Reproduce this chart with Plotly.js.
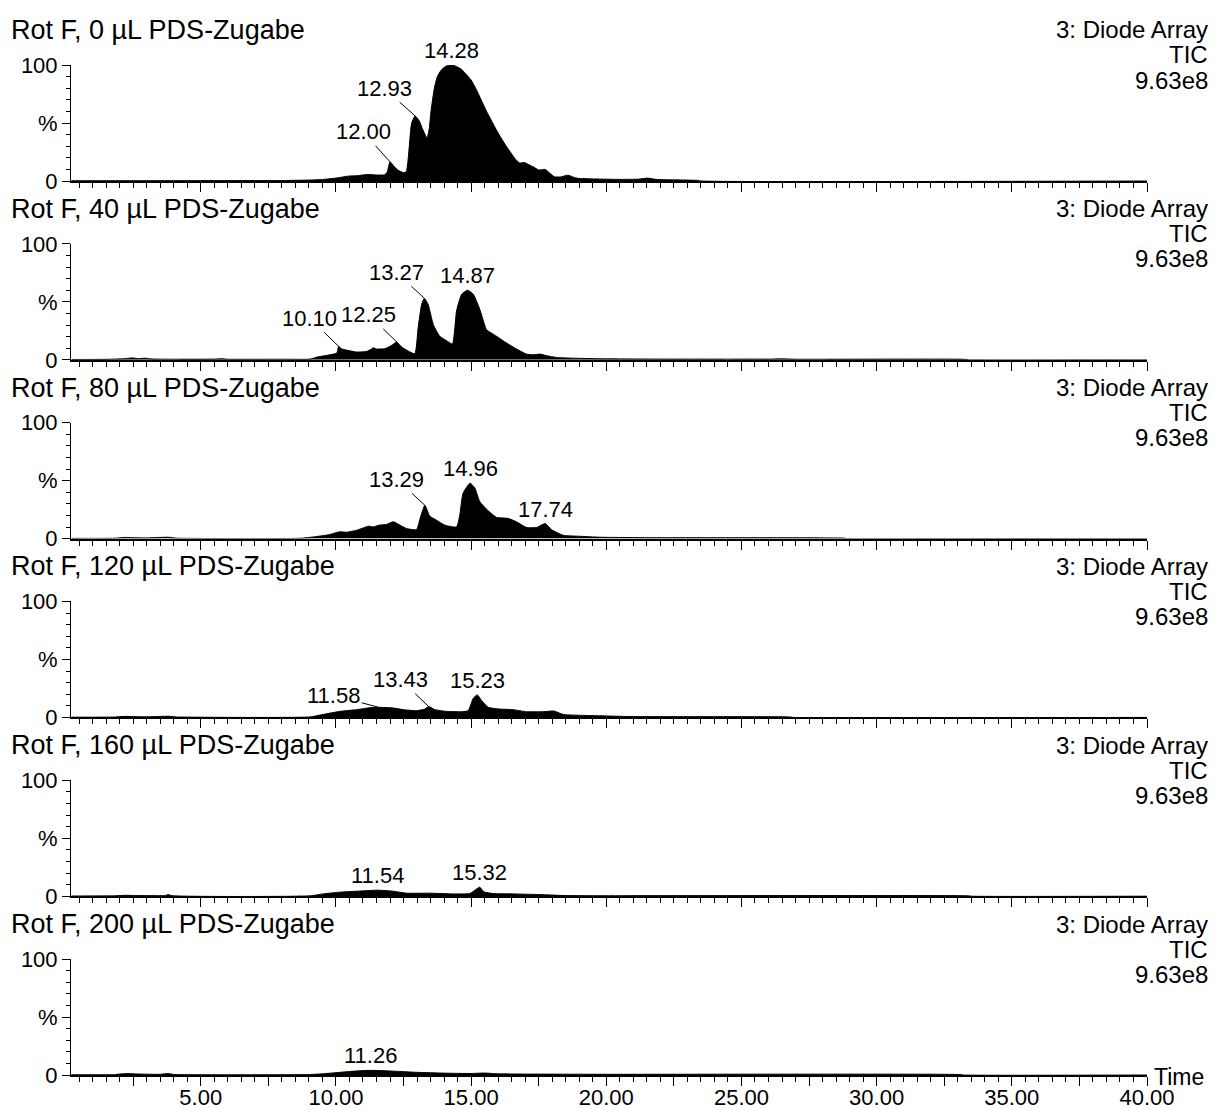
<!DOCTYPE html>
<html>
<head>
<meta charset="utf-8">
<script src="https://cdn.plot.ly/plotly-3.0.1.min.js"></script>
<style>
  html, body { margin: 0; padding: 0; background: #fff; }
  #chart { width: 1218px; height: 1110px; }
</style>
</head>
<body>
<div id="chart"></div>
<script>
// Sample titles and detector header lines
const panelTitles = [
  'Rot F, 0 µL PDS-Zugabe',
  'Rot F, 40 µL PDS-Zugabe',
  'Rot F, 80 µL PDS-Zugabe',
  'Rot F, 120 µL PDS-Zugabe',
  'Rot F, 160 µL PDS-Zugabe',
  'Rot F, 200 µL PDS-Zugabe'
];
const detectorLines = ['3: Diode Array', 'TIC', '9.63e8'];

// Retention time (min) and relative intensity (%) of each TIC trace
const time0 = [0.22, 5.0, 8.0, 9.0, 9.5, 10.0, 10.45, 10.8, 11.17, 11.5, 11.8, 11.9, 12.00, 12.15, 12.3, 12.5, 12.6, 12.68, 12.8, 12.93, 13.08, 13.2, 13.37, 13.45, 13.52, 13.64, 13.75, 13.89, 14.05, 14.28, 14.45, 14.63, 14.8, 15.0, 15.2, 15.37, 15.55, 15.74, 15.9, 16.11, 16.3, 16.48, 16.65, 16.8, 16.96, 17.1, 17.28, 17.5, 17.62, 17.74, 17.9, 18.08, 18.3, 18.58, 18.8, 18.95, 19.5, 20.5, 21.2, 21.54, 21.8, 22.3, 23.0, 23.4, 23.5, 40.0];
const int0  = [0.2, 0.3, 0.4, 0.8, 1.3, 2.5, 4.2, 4.6, 5.6, 5.2, 5.3, 8.0, 16.5, 12.5, 9.3, 7.2, 8.0, 21.0, 50.0, 56.0, 52.0, 45.0, 37.0, 45.0, 61.0, 80.0, 90.0, 95.5, 98.8, 100.0, 98.8, 96.5, 92.5, 87.0, 78.5, 70.0, 61.0, 52.6, 45.5, 37.0, 30.0, 24.0, 18.5, 15.5, 16.0, 14.5, 12.4, 9.5, 9.8, 10.0, 7.0, 3.7, 3.5, 5.0, 3.2, 2.3, 1.8, 1.4, 1.6, 2.5, 1.5, 1.0, 0.8, 0.5, 0.0, 0.0];

const time1 = [0.22, 1.5, 2.2, 2.45, 2.7, 2.95, 3.2, 4.0, 5.5, 5.75, 6.0, 8.0, 9.04, 9.29, 9.78, 10.03, 10.10, 10.2, 10.33, 10.77, 11.13, 11.3, 11.38, 11.5, 11.57, 11.81, 12.0, 12.12, 12.25, 12.35, 12.49, 12.74, 12.92, 13.04, 13.17, 13.27, 13.41, 13.6, 13.84, 14.09, 14.31, 14.4, 14.46, 14.65, 14.87, 15.08, 15.32, 15.5, 15.57, 15.94, 16.31, 16.68, 17.05, 17.3, 17.55, 17.8, 18.16, 18.77, 19.76, 22.0, 26.0, 26.5, 27.0, 33.3, 33.4, 40.0];
const int1  = [0.3, 0.4, 1.0, 1.6, 1.0, 1.4, 0.7, 0.5, 0.6, 0.9, 0.5, 0.5, 0.6, 2.3, 4.3, 5.8, 11.6, 9.5, 8.7, 6.7, 7.2, 9.0, 10.4, 9.3, 9.3, 9.6, 11.6, 13.5, 15.4, 13.0, 10.1, 6.7, 5.2, 27.5, 47.8, 53.0, 47.8, 30.4, 20.3, 16.5, 13.6, 28.0, 42.0, 56.5, 60.0, 56.5, 43.5, 30.0, 26.0, 20.3, 14.5, 9.3, 4.9, 4.3, 4.9, 3.5, 2.0, 1.4, 0.9, 0.6, 0.6, 0.8, 0.5, 0.4, 0.0, 0.0];

const time2 = [0.22, 1.8, 2.2, 2.5, 3.0, 3.8, 4.1, 8.7, 9.16, 9.78, 10.12, 10.4, 10.77, 11.2, 11.38, 11.6, 11.87, 12.12, 12.37, 12.61, 12.98, 13.13, 13.29, 13.47, 13.72, 14.03, 14.46, 14.58, 14.7, 14.96, 15.14, 15.32, 15.63, 15.94, 16.37, 16.68, 17.05, 17.42, 17.74, 17.97, 18.4, 19.02, 19.76, 21.5, 28.8, 28.9, 40.0];
const int2  = [0.2, 0.3, 1.0, 0.8, 0.6, 1.2, 0.4, 0.3, 1.4, 3.5, 5.8, 5.5, 7.2, 10.7, 10.1, 11.6, 12.2, 14.5, 11.6, 8.7, 7.8, 18.8, 28.7, 19.4, 15.9, 11.6, 10.1, 20.3, 39.0, 47.8, 43.5, 31.9, 24.0, 18.3, 17.4, 14.5, 9.6, 9.6, 13.0, 7.8, 2.9, 2.0, 1.2, 0.8, 0.4, 0.0, 0.0];

const time3 = [0.22, 1.8, 2.2, 2.5, 3.0, 3.8, 4.1, 9.04, 9.41, 10.15, 10.77, 11.26, 11.58, 12.12, 12.49, 12.98, 13.29, 13.43, 13.66, 14.09, 14.65, 14.89, 15.08, 15.23, 15.39, 15.63, 16.06, 16.55, 17.05, 17.66, 18.06, 18.4, 19.76, 21.0, 26.8, 26.9, 40.0];
const int3  = [0.2, 0.3, 0.9, 0.7, 0.5, 1.0, 0.4, 0.4, 2.0, 5.2, 6.7, 8.4, 8.7, 8.1, 6.7, 5.8, 7.2, 9.3, 6.7, 5.2, 4.9, 5.8, 16.5, 19.4, 14.5, 8.7, 7.2, 6.7, 4.9, 4.9, 5.5, 2.6, 1.4, 0.7, 0.4, 0.0, 0.0];

const time4 = [0.22, 1.8, 2.2, 2.5, 3.0, 3.7, 3.8, 3.9, 9.04, 9.53, 10.15, 10.77, 11.54, 12.12, 12.61, 13.47, 14.34, 14.95, 15.14, 15.32, 15.47, 15.81, 16.55, 17.54, 18.4, 19.76, 33.4, 33.5, 40.0];
const int4  = [0.2, 0.3, 0.8, 0.6, 0.5, 0.6, 1.5, 0.5, 0.3, 2.0, 3.5, 4.3, 5.2, 4.3, 2.6, 2.6, 2.0, 2.3, 5.2, 7.8, 3.8, 2.3, 2.0, 1.4, 0.6, 0.4, 0.3, 0.0, 0.0];

const time5 = [0.22, 1.8, 2.0, 2.3, 2.6, 3.0, 3.5, 3.8, 4.0, 9.0, 9.5, 10.0, 10.5, 11.0, 11.26, 11.8, 12.4, 13.0, 14.0, 15.0, 15.5, 16.0, 17.0, 20.0, 33.1, 33.2, 40.0];
const int5  = [0.2, 0.3, 0.8, 1.2, 0.9, 0.7, 0.6, 1.3, 0.5, 0.4, 1.0, 2.0, 3.0, 3.8, 4.0, 3.7, 3.0, 2.3, 1.6, 1.3, 1.7, 1.0, 0.8, 0.6, 0.4, 0.0, 0.0];

// Labelled peak apex times for each trace
const peaks0 = [12.00, 12.93, 14.28];
const peaks1 = [10.10, 12.25, 13.27, 14.87];
const peaks2 = [13.29, 14.96, 17.74];
const peaks3 = [11.58, 13.43, 15.23];
const peaks4 = [11.54, 15.32];
const peaks5 = [11.26];

// Time axis ticks
const timeTicks = [2.5, 5, 7.5, 10, 12.5, 15, 17.5, 20, 22.5, 25, 27.5, 30, 32.5, 35, 37.5, 40];
const timeTickText = ['', '5.00', '', '10.00', '', '15.00', '', '20.00', '', '25.00', '', '30.00', '', '35.00', '', '40.00'];

const times = [time0, time1, time2, time3, time4, time5];
const ints = [int0, int1, int2, int3, int4, int5];
const peaks = [peaks0, peaks1, peaks2, peaks3, peaks4, peaks5];

// ---- page geometry (pixels) ----
const W = 1218, H = 1110;
const M = { l: 71, r: 71, t: 65, b: 35 };
const plotW = W - M.l - M.r;
const plotH = H - M.t - M.b;
const panelStep = 178.8;       // distance between panel baselines
const panelH = 116;            // 0..100 % height of a panel
const FONT = 'Liberation Sans, Arial, Helvetica, sans-serif';

// leader-line offsets (text centre relative to apex) for labels drawn with a pointer
const leaders = {
  '0:12.00': [-27, -30], '0:12.93': [-31, -28],
  '1:10.10': [-29, -28], '1:12.25': [-28, -27], '1:13.27': [-28, -26],
  '2:13.29': [-28, -26],
  '3:11.58': [-45, -12], '3:13.43': [-28, -27]
};

const px2x = px => (px - M.l) / plotW;
const px2y = py => (H - M.b - py) / plotH;

function valueAt(ts, vs, t) {
  for (let i = 0; i < ts.length - 1; i++) {
    if (t >= ts[i] && t <= ts[i + 1]) {
      const f = (t - ts[i]) / (ts[i + 1] - ts[i] || 1);
      return vs[i] + f * (vs[i + 1] - vs[i]);
    }
  }
  return 0;
}

const data = [];
const layout = {
  width: W, height: H,
  margin: M,
  paper_bgcolor: '#fff', plot_bgcolor: '#fff',
  showlegend: false,
  font: { family: FONT, size: 21, color: '#000' },
  annotations: []
};

for (let k = 0; k < 6; k++) {
  const sfx = k === 0 ? '' : String(k + 1);
  const baseline = H - M.b - (5 - k) * panelStep;   // pixel y of 0 %
  const top = baseline - panelH;
  const lo = (H - M.b - baseline) / plotH;
  const hi = Math.min(1, lo + panelH / plotH);

  data.push({
    type: 'scatter', mode: 'lines',
    x: times[k], y: ints[k],
    xaxis: 'x' + sfx, yaxis: 'y' + sfx,
    fill: 'tozeroy', fillcolor: '#000',
    line: { color: '#000', width: 1, shape: 'spline', smoothing: 0.5 },
    hoverinfo: 'skip'
  });

  layout['xaxis' + sfx] = {
    anchor: 'y' + sfx,
    domain: [0, 1],
    range: [0.2, 40],
    showgrid: false, zeroline: false,
    showline: true, linecolor: '#000', linewidth: 2,
    ticks: 'outside', ticklen: 9, tickwidth: 1, tickcolor: '#000',
    tickmode: 'array', tickvals: timeTicks, ticktext: timeTickText,
    showticklabels: k === 5,
    ticklabelstandoff: -7,
    tickfont: { family: FONT, size: 22, color: '#000' },
    minor: { tickmode: 'linear', tick0: 0, dtick: 0.5, ticks: 'outside', ticklen: 5, tickwidth: 1, tickcolor: '#000', showgrid: false },
    fixedrange: true
  };
  layout['yaxis' + sfx] = {
    anchor: 'x' + sfx,
    domain: [lo, hi],
    range: [0, 100],
    showgrid: false, zeroline: false,
    showline: true, linecolor: '#000', linewidth: 1,
    ticks: 'outside', ticklen: 8, tickwidth: 1, tickcolor: '#000',
    tickmode: 'array', tickvals: [0, 50, 100], ticktext: ['0', '%', '100'],
    tickfont: { family: FONT, size: 22, color: '#000' },
    minor: { tickmode: 'linear', tick0: 0, dtick: 10, ticks: 'outside', ticklen: 4, tickwidth: 1, tickcolor: '#000', showgrid: false },
    fixedrange: true
  };

  // sample title
  layout.annotations.push({
    xref: 'paper', yref: 'paper',
    x: px2x(9), y: px2y(top - 35),
    xanchor: 'left', yanchor: 'middle',
    text: panelTitles[k], showarrow: false,
    font: { family: FONT, size: 27, color: '#000' }
  });
  // detector header on the right
  const rightYs = [top - 35, top - 10, top + 15];
  detectorLines.forEach((line, i) => {
    layout.annotations.push({
      xref: 'paper', yref: 'paper',
      x: px2x(1210), y: px2y(rightYs[i]),
      xanchor: 'right', yanchor: 'middle',
      text: line, showarrow: false,
      font: { family: FONT, size: 24, color: '#000' }
    });
  });

  // peak labels
  peaks[k].forEach(t => {
    const label = t.toFixed(2);
    const v = valueAt(times[k], ints[k], t);
    const off = leaders[k + ':' + label];
    if (off) {
      layout.annotations.push({
        xref: 'x' + sfx, yref: 'y' + sfx, x: t, y: v,
        text: label, showarrow: true, arrowhead: 0, arrowwidth: 1, arrowcolor: '#000',
        standoff: 0, ax: off[0], ay: off[1],
        font: { family: FONT, size: 22, color: '#000' }
      });
    } else {
      layout.annotations.push({
        xref: 'x' + sfx, yref: 'y' + sfx, x: t, y: v,
        xanchor: 'center', yanchor: 'bottom',
        text: label, showarrow: false,
        font: { family: FONT, size: 22, color: '#000' }
      });
    }
  });
}

// time axis name at the right end of the bottom axis
layout.annotations.push({
  xref: 'paper', yref: 'paper',
  x: px2x(1152), y: px2y(1077),
  xanchor: 'left', yanchor: 'middle',
  text: 'Time', showarrow: false,
  font: { family: FONT, size: 23, color: '#000' }
});

Plotly.newPlot('chart', data, layout, { staticPlot: true, displayModeBar: false });
</script>
</body>
</html>
